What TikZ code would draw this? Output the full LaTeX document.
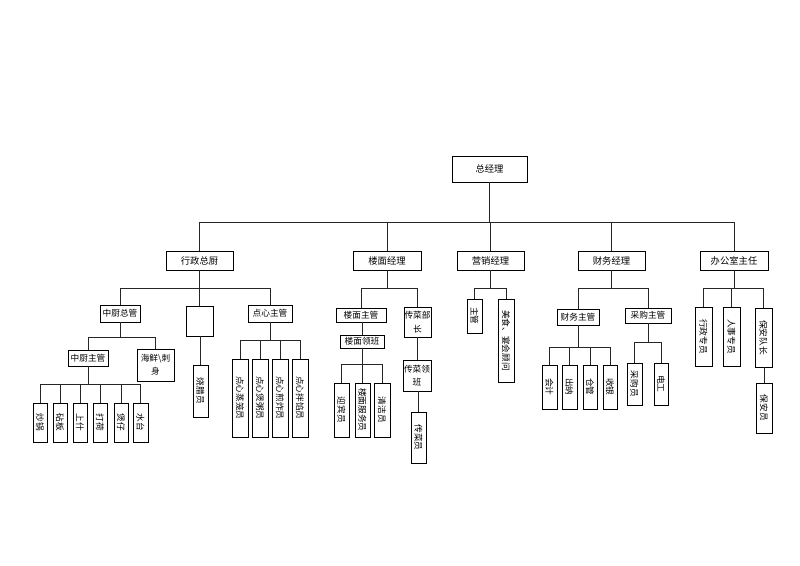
\documentclass[tikz,border=0pt]{standalone}
\usepackage{fontspec}
\setmainfont{Noto Sans CJK SC}
\usetikzlibrary{fit}
\newcommand\orgH[6]{%
  \node[bx, fit={(#2,#3) (#4,#5)}] (#1) {};
  \node[tx] at (#1.center) {#6};}
\newcommand\orgT[6]{%
  \node[bx, fit={(#2,#3) (#4,#5)}] (#1) {};
  \node[tt] at (#1.center) {#6};}
\newcommand\orgV[6]{%
  \node[bx, fit={(#2,#3) (#4,#5)}] (#1) {};
  \node[vt] at (#1.center) {#6};}
\begin{document}
\begin{tikzpicture}[x=0.75pt,y=-0.75pt,
  bx/.style={draw=black, line width=0.7pt, inner sep=0pt},
  ln/.style={line width=0.6pt, draw=black!85},
  tt/.style={font=\fontsize{7}{9}\selectfont, inner sep=0pt, align=center},
  tx/.style={font=\fontsize{6.5}{10}\selectfont, inner sep=0pt, align=center},
  vt/.style={font=\fontsize{6.5}{9}\selectfont, inner sep=0pt, rotate=-90}]
\useasboundingbox (0,0) rectangle (800,566);
% bar levels
\coordinate (y1) at (0,222);
\coordinate (y2) at (0,288);
\coordinate (yzc) at (0,337);
\coordinate (yzz) at (0,384);
\coordinate (ydx) at (0,340);
\coordinate (ylm) at (0,364);
\coordinate (ycw) at (0,347);
\coordinate (ycg) at (0,342);
% level 1-2
\orgT{zjl}{452}{156}{527}{182}{总经理}
\orgT{xzzc}{166}{251}{233}{270}{行政总厨}
\orgT{lmjl}{353}{251}{421}{270}{楼面经理}
\orgT{yxjl}{457}{251}{524}{270}{营销经理}
\orgT{cwjl}{578}{251}{645}{270}{财务经理}
\orgT{bgs}{700}{251}{768}{270}{办公室主任}
% 行政总厨 branch
\orgH{zcgz}{100}{305}{140}{322}{中厨总管}
\node[bx, fit={(186,306) (213,336)}] (kong) {};
\orgH{dxzg}{248}{305}{292}{322}{点心主管}
\orgH{zczg}{68}{350}{108}{366}{中厨主管}
\orgH{hxcs}{137}{349}{174}{381}{海鲜\textbackslash 刺\\身}
\orgV{cg}{33}{403}{47}{442}{炒锅}
\orgV{zb}{53}{403}{67}{442}{砧板}
\orgV{ss}{73}{403}{87}{442}{上什}
\orgV{dh}{93}{403}{107}{442}{打荷}
\orgV{bz}{114}{403}{128}{442}{煲仔}
\orgV{st}{133}{403}{148}{442}{水台}
\orgV{sl}{193}{365}{208}{417}{烧腊员}
\orgV{dx1}{232}{359}{248}{437}{点心蒸笼员}
\orgV{dx2}{252}{359}{268}{437}{点心煲粥员}
\orgV{dx3}{272}{359}{288}{437}{点心煎炸员}
\orgV{dx4}{292}{359}{308}{437}{点心拌馅员}
% 楼面经理 branch
\orgH{lmzg}{336}{308}{386}{322}{楼面主管}
\orgH{cbbz}{404}{307}{431}{337}{传菜部\\长}
\orgH{lmlb}{340}{335}{384}{348}{楼面领班}
\orgV{yby}{334}{383}{349}{437}{迎宾员}
\orgV{lmfw}{355}{383}{370}{437}{楼面服务员}
\orgV{qjy}{374}{383}{390}{437}{清洁员}
\orgH{cblb}{403}{360}{431}{391}{传菜领\\班}
\orgV{cby}{411}{412}{426}{463}{传菜员}
% 营销经理 branch
\orgV{zg}{467}{299}{482}{333}{主管}
\orgV{msgw}{498}{299}{514}{382}{美食、宴会顾问}
% 财务经理 branch
\orgH{cwzg}{557}{309}{599}{325}{财务主管}
\orgH{cgzg}{625}{308}{671}{323}{采购主管}
\orgV{kj}{542}{365}{557}{409}{会计}
\orgV{cn}{562}{365}{577}{409}{出纳}
\orgV{cgg}{583}{365}{597}{409}{仓管}
\orgV{sy}{603}{365}{617}{409}{收银}
\orgV{cgy}{627}{363}{642}{405}{采购员}
\orgV{dg}{654}{363}{668}{405}{电工}
% 办公室主任 branch
\orgV{xzzy}{695}{307}{712}{366}{行政专员}
\orgV{rszy}{723}{307}{740}{366}{人事专员}
\orgV{badz}{755}{308}{772}{367}{保安队长}
\orgV{bay}{756}{383}{772}{433}{保安员}
% connectors level 1
\draw[ln] (zjl.south) -- (zjl.south |- y1);
\draw[ln] (xzzc.north) -- (xzzc.north |- y1) -- (bgs.north |- y1) -- (bgs.north);
\foreach \n in {lmjl,yxjl,cwjl} \draw[ln] (\n.north) -- (\n.north |- y1);
% level 2 bars
\draw[ln] (xzzc.south) -- (kong.north);
\draw[ln] (zcgz.north) -- (zcgz.north |- y2) -- (dxzg.north |- y2) -- (dxzg.north);
\draw[ln] (lmjl.south) -- (lmjl.south |- y2);
\draw[ln] (lmzg.north) -- (lmzg.north |- y2) -- (cbbz.north |- y2) -- (cbbz.north);
\draw[ln] (yxjl.south) -- (yxjl.south |- y2);
\draw[ln] (zg.north) -- (zg.north |- y2) -- (msgw.north |- y2) -- (msgw.north);
\draw[ln] (cwjl.south) -- (cwjl.south |- y2);
\draw[ln] (cwzg.north) -- (cwzg.north |- y2) -- (cgzg.north |- y2) -- (cgzg.north);
\draw[ln] (bgs.south) -- (bgs.south |- y2);
\draw[ln] (xzzy.north) -- (xzzy.north |- y2) -- (badz.north |- y2) -- (badz.north);
\draw[ln] (rszy.north) -- (rszy.north |- y2);
% 中厨总管
\draw[ln] (zcgz.south) -- (zcgz.south |- yzc);
\draw[ln] (zczg.north) -- (zczg.north |- yzc) -- (hxcs.north |- yzc) -- (hxcs.north);
\draw[ln] (zczg.south) -- (zczg.south |- yzz);
\draw[ln] (cg.north) -- (cg.north |- yzz) -- (st.north |- yzz) -- (st.north);
\foreach \n in {zb,ss,dh,bz} \draw[ln] (\n.north) -- (\n.north |- yzz);
\draw[ln] (sl.north |- kong.south) -- (sl.north);
% 点心主管
\draw[ln] (dxzg.south) -- (dxzg.south |- ydx);
\draw[ln] (dx1.north) -- (dx1.north |- ydx) -- (dx4.north |- ydx) -- (dx4.north);
\foreach \n in {dx2,dx3} \draw[ln] (\n.north) -- (\n.north |- ydx);
% 楼面
\draw[ln] (lmlb.north |- lmzg.south) -- (lmlb.north);
\draw[ln] (lmlb.south) -- (lmlb.south |- ylm);
\draw[ln] (yby.north) -- (yby.north |- ylm) -- (qjy.north |- ylm) -- (qjy.north);
\draw[ln] (lmfw.north) -- (lmfw.north |- ylm);
\draw[ln] (cblb.north |- cbbz.south) -- (cblb.north);
\draw[ln] (cby.north |- cblb.south) -- (cby.north);
% 财务
\draw[ln] (cwzg.south) -- (cwzg.south |- ycw);
\draw[ln] (kj.north) -- (kj.north |- ycw) -- (sy.north |- ycw) -- (sy.north);
\foreach \n in {cn,cgg} \draw[ln] (\n.north) -- (\n.north |- ycw);
\draw[ln] (cgzg.south) -- (cgzg.south |- ycg);
\draw[ln] (cgy.north) -- (cgy.north |- ycg) -- (dg.north |- ycg) -- (dg.north);
% 办公室
\draw[ln] (bay.north |- badz.south) -- (bay.north);
\end{tikzpicture}
\end{document}
